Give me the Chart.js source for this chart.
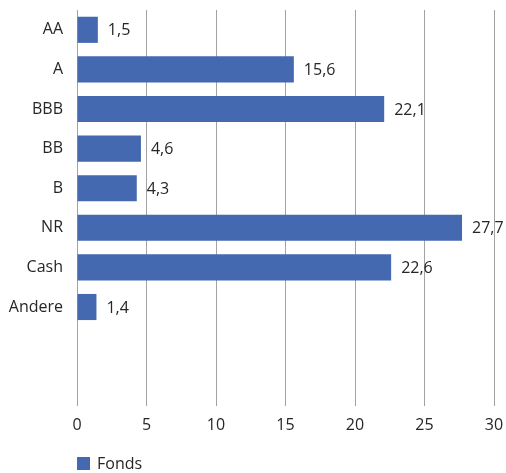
<!DOCTYPE html>
<html>
<head>
<meta charset="utf-8">
<script src="https://cdn.jsdelivr.net/npm/chart.js@4/dist/chart.umd.min.js"></script>
<style>
  html, body { margin: 0; padding: 0; background: #fff; }
  #wrap { position: relative; width: 506px; height: 473px; }
</style>
</head>
<body>
<div id="wrap"><canvas id="ratingChart"></canvas></div>
<script>
// ratings, last two slots are left empty in the original
const categories = ['AA', 'A', 'BBB', 'BB', 'B', 'NR', 'Cash', 'Andere', '', ''];
const fondsValues = [1.5, 15.6, 22.1, 4.6, 4.3, 27.7, 22.6, 1.4, null, null];
const xTicks = [0, 5, 10, 15, 20, 25, 30];
const seriesName = 'Fonds';

const blue = '#4469b1';
const textColor = '#262626';
const fontFamily = '"Open Sans", "Noto Sans", sans-serif';

// value labels next to the bars + legend at the bottom
const labelsPlugin = {
    id: 'valueLabels',
    afterDatasetsDraw(chart) {
        const ctx = chart.ctx;
        const meta = chart.getDatasetMeta(0);
        ctx.save();
        ctx.font = '16px ' + fontFamily;
        ctx.fillStyle = textColor;
        ctx.textAlign = 'left';
        ctx.textBaseline = 'middle';
        meta.data.forEach((bar, i) => {
            const v = chart.data.datasets[0].data[i];
            if (v == null) return;
            ctx.fillText(v.toFixed(1).replace('.', ','), bar.x + 10, bar.y + 1);
        });
        ctx.restore();
    },
    afterDraw(chart) {
        const ctx = chart.ctx;
        const ds = chart.data.datasets[0];
        const left = chart.chartArea.left;
        ctx.save();
        ctx.fillStyle = ds.backgroundColor;
        ctx.fillRect(left, 457, 13, 13);
        ctx.font = '16px ' + fontFamily;
        ctx.fillStyle = textColor;
        ctx.textBaseline = 'middle';
        ctx.fillText(ds.label, left + 20, 464);
        ctx.restore();
    }
};

const ctx = document.getElementById('ratingChart').getContext('2d');
const ratingChart = new Chart(ctx, {
    type: 'bar',
    data: {
        labels: categories,
        datasets: [{
            label: seriesName,
            data: fondsValues,
            backgroundColor: blue,
            borderWidth: 0,
            categoryPercentage: 1,
            barPercentage: 0.66
        }]
    },
    options: {
        indexAxis: 'y',
        responsive: true,
        maintainAspectRatio: false,
        animation: false,
        layout: { padding: { top: 10, right: 12, bottom: 0, left: 0 } },
        plugins: {
            legend: { display: false },
            tooltip: { enabled: false }
        },
        scales: {
            x: {
                min: 0,
                max: 30,
                afterBuildTicks: (scale) => { scale.ticks = xTicks.map(v => ({ value: v })); },
                afterFit: (scale) => {
                    scale.height = 67;
                    scale.paddingLeft = 0;
                    scale.paddingRight = 0;
                },
                grid: { color: '#a3a3a3', lineWidth: 1, drawTicks: false },
                border: { display: false },
                ticks: {
                    padding: 10,
                    color: textColor,
                    font: { family: fontFamily, size: 16 }
                }
            },
            y: {
                afterFit: (scale) => {
                    scale.width = 77;
                    scale.paddingTop = 0;
                    scale.paddingBottom = 0;
                },
                grid: { display: false, drawTicks: false },
                border: { display: false },
                ticks: {
                    padding: 14,
                    color: textColor,
                    font: { family: fontFamily, size: 16 }
                }
            }
        }
    },
    plugins: [labelsPlugin]
});
</script>
</body>
</html>
